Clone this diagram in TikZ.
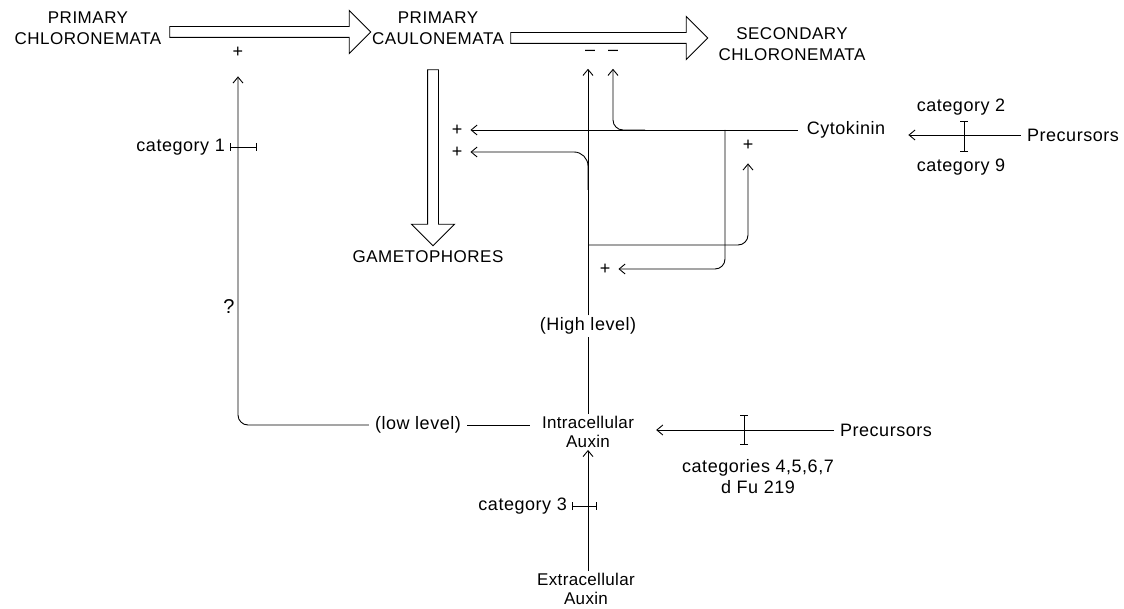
\documentclass[tikz,border=0pt]{standalone}
\usepackage{fontspec}
\setmainfont{Liberation Sans}
\usetikzlibrary{arrows.meta,shapes.arrows,calc}
\begin{document}
\begin{tikzpicture}[x=1pt,y=-1pt,
 lab/.style={font=\fontsize{18}{21}\selectfont\addfontfeature{LetterSpace=3}, inner sep=2pt, align=center},
 small/.style={font=\fontsize{17}{19}\selectfont\addfontfeature{LetterSpace=2}, inner sep=2pt, align=center},
 caps/.style={font=\fontsize{17}{21}\selectfont\addfontfeature{LetterSpace=3}, inner sep=2pt, align=center},
 sgn/.style={font=\fontsize{18}{18}\selectfont, inner sep=1pt},
 bigarrow/.style={draw, single arrow, single arrow head extend=16pt, inner sep=5pt, line width=0.9pt},
 con/.style={line width=0.9pt, -{Straight Barb[length=6pt,width=10pt,line width=0.9pt]}},
 ln/.style={line width=0.9pt},
 inh/.style={line width=0.9pt, {Bar[width=8pt,line width=0.9pt]}-{Bar[width=8pt,line width=0.9pt]}},
]
\useasboundingbox (0,0) rectangle (1124,609);
% stage labels
\node[caps] (pchl) at (88,28) {PRIMARY\\CHLORONEMATA};
\node[caps] (pcau) at (438,28) {PRIMARY\\CAULONEMATA};
\node[caps] (schl) at (792,44) {SECONDARY\\CHLORONEMATA};
\node[caps] (gam) at (428,257) {GAMETOPHORES};
% big hollow arrows
\node[bigarrow, minimum height=201pt] (a1) at (267.5,32) {};
\node[bigarrow, minimum height=197pt] (a2) at (606.5,38) {};
\node[bigarrow, minimum height=176pt, rotate=-90] (a3) at (433,155) {};
% other labels
\node[lab, inner xsep=9pt] (cyto) at (846,130) {Cytokinin};
\node[lab, inner xsep=6pt] (prec1) at (1073,135) {Precursors};
\node[lab] (cat2) at (961,107) {category 2};
\node[lab] (cat9) at (961,167) {category 9};
\node[lab] (highlev) at (588,326) {(High level)};
\node[lab, inner xsep=6pt] (lowlev) at (418,425) {(low level)};
\node[small] (intra) at (588,432) {Intracellular\\Auxin};
\node[lab, inner xsep=6pt] (prec2) at (886,430) {Precursors};
\node[lab] (cat4) at (758,477) {categories 4,5,6,7\\d Fu 219};
\node[lab, anchor=east] (cat1) at (227,147) {category 1};
\node[lab, anchor=east] (cat3) at (569,506) {category 3};
\node[small] (extra) at (586,589) {Extracellular\\Auxin};
\node[font=\fontsize{20}{20}\selectfont] (q) at (229,307) {?};
% signs
\node[sgn] (pA) at (238,52) {+};
\node[sgn] (mA) at (590,53) {--};
\node[sgn] (mB) at (613,53) {--};
\node[sgn] (pC) at (457,130) {+};
\node[sgn] (pD) at (457,152) {+};
\node[sgn] (pE) at (748,145) {+};
\node[sgn] (pF) at (605,269) {+};
% junction coordinates
\coordinate (j1) at (645,130);
\coordinate (j2) at (588,190);
\coordinate (j3) at (725,130);
\coordinate (j4) at (588,245);
\coordinate (t1) at ($(cyto.east)+(14,0)$);
\coordinate (t2) at ($(intra.east)+(20,0)$);
% connectors
\draw[ln] (intra.north) -- (highlev.south);
\draw[con] (highlev.north) -- ($(mA.south)+(-2,12)$);
\draw[con] (cyto.west) -- ($(pC.east)+(7,0)$);
\draw[con, rounded corners=10pt] (j1) -| ($(mB.south)+(0,12)$);
\draw[con, rounded corners=14pt] (j2) |- ($(pD.east)+(7,0)$);
\draw[con, rounded corners=10pt] (j3) |- ($(pF.east)+(7,0)$);
\draw[con, rounded corners=10pt] (j4) -| ($(pE.south)+(0,12)$);
\draw[con, rounded corners=10pt] (lowlev.west) -| ($(pA.south)+(0,18)$);
\draw[ln, shorten >=10pt] (lowlev.east) -- (lowlev.east -| intra.west);
\draw[con] (prec2.west) -- (prec2.west -| t2);
\draw[con] (prec1.west) -- (prec1.west -| t1);
\draw[con] (extra.north -| intra.south) -- (intra.south);
% inhibition bars
\draw[inh] (744,415) -- (744,445);
\draw[inh] (964,121) -- (964,152);
\draw[inh] (572,506) -- (597,506);
\draw[inh] (230,147) -- (257,147);
\end{tikzpicture}
\end{document}
